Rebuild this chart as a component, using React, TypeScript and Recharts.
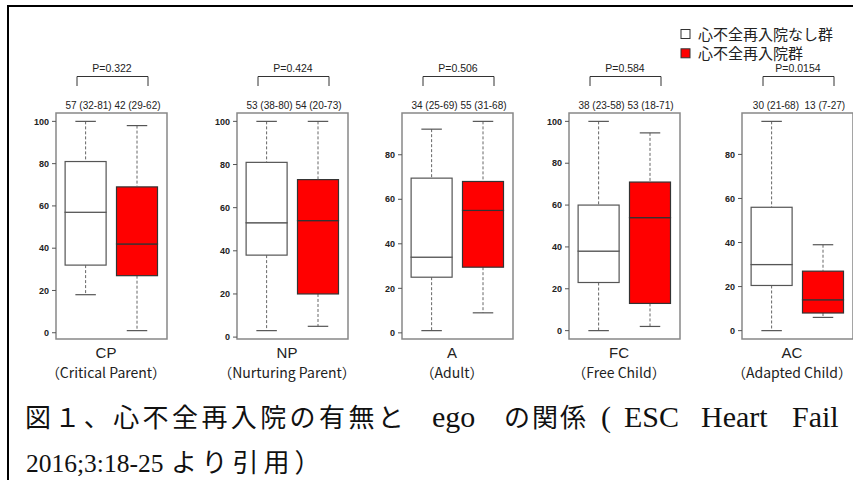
import { BarChart, Bar, XAxis, YAxis, ReferenceArea } from "recharts";

const egoCodes = ["CP", "NP", "A", "FC", "AC"];
const egoNames = [
  "（Critical Parent）",
  "（Nurturing Parent）",
  "（Adult）",
  "（Free Child）",
  "（Adapted Child）",
];
const pLabels = ["P=0.322", "P=0.424", "P=0.506", "P=0.584", "P=0.0154"];
const medianLabels = [
  "57 (32-81) 42 (29-62)",
  "53 (38-80) 54 (20-73)",
  "34 (25-69) 55 (31-68)",
  "38 (23-58) 53 (18-71)",
  "30 (21-68)  13 (7-27)",
];
const groupNames = ["心不全再入院なし群", "心不全再入院群"];
const groupColors = ["#ffffff", "#ff0000"];
const yTicks = [0, 20, 40, 60, 80, 100];

// box plot stats (min, q1, median, q3, max)
const noneMin = [18, 3, 1, 0, 0];
const noneQ1 = [32, 38, 25, 23, 20.5];
const noneMed = [57, 53, 34, 38, 30];
const noneQ3 = [81, 81, 69.5, 60, 56];
const noneMax = [100, 100, 91.5, 100, 95];
const readmitMin = [1, 5, 9, 2, 6];
const readmitQ1 = [27, 20, 29.5, 13, 8];
const readmitMed = [42, 54, 55, 54, 14];
const readmitQ3 = [69, 73, 68, 71, 27];
const readmitMax = [98, 100, 95, 94.5, 39];

const panelLeft = [56, 237, 402, 569, 742];
const PLOT_W = 111;
const PLOT_TOP = 113;
const PLOT_H = 226;
const AXIS_W = 40;

const SANS = "'Liberation Sans', Arial, sans-serif";
const CJK = "'Noto Sans CJK JP', sans-serif";
const SERIF = "'Liberation Serif', 'Times New Roman', serif";

const toRow = (pos: number, mn: number, q1: number, md: number, q3: number, mx: number, color: string) => ({
  pos,
  color,
  base: mn,
  lowW: q1 - mn,
  lowBox: md - q1,
  highBox: q3 - md,
  highW: mx - q3,
});

const BoxPart = (props: any) => {
  const { x, y, width, height, payload } = props;
  const white = payload.color === "#ffffff";
  return (
    <rect
      x={x}
      y={y}
      width={width}
      height={height}
      fill={payload.color}
      stroke={white ? "#555" : "#333"}
      strokeWidth={1.2}
    />
  );
};

const Whisker = (props: any, top: boolean) => {
  const { x, y, width, height } = props;
  const cx = x + width / 2;
  const capY = top ? y : y + height;
  return (
    <g>
      <line x1={cx} x2={cx} y1={y} y2={y + height} stroke="#666" strokeDasharray="3 2" />
      <line x1={cx - width / 4} x2={cx + width / 4} y1={capY} y2={capY} stroke="#555" strokeWidth={1.2} />
    </g>
  );
};

const EgoPanel = ({ i }: { i: number }) => {
  const rows = [
    toRow(1, noneMin[i], noneQ1[i], noneMed[i], noneQ3[i], noneMax[i], groupColors[0]),
    toRow(2, readmitMin[i], readmitQ1[i], readmitMed[i], readmitQ3[i], readmitMax[i], groupColors[1]),
  ];
  const lo = Math.min(noneMin[i], readmitMin[i]);
  const hi = Math.max(noneMax[i], readmitMax[i]);
  const pad = (hi - lo) * 0.04;
  const domain = [lo - pad, hi + pad];
  const ticks = yTicks.filter((t) => t <= domain[1]);

  return (
    <div style={{ position: "absolute", left: panelLeft[i] - AXIS_W, top: PLOT_TOP - 5 }}>
      <BarChart
        width={AXIS_W + PLOT_W + 6}
        height={PLOT_H + 10}
        data={rows}
        barSize={41}
        margin={{ top: 5, right: 6, bottom: 5, left: 0 }}
      >
        <XAxis type="number" dataKey="pos" domain={[0.42, 2.58]} hide />
        <YAxis
          type="number"
          domain={domain}
          ticks={ticks}
          interval={0}
          width={AXIS_W}
          axisLine={false}
          tickSize={4}
          tickMargin={3}
          tickLine={{ stroke: "#555" }}
          tick={{ fontSize: 9, fontWeight: 700, fill: "#222", fontFamily: SANS }}
        />
        <ReferenceArea y1={domain[0]} y2={domain[1]} fill="none" stroke="#888" strokeWidth={1.5} />
        <Bar dataKey="base" stackId="b" shape={() => <g />} isAnimationActive={false} />
        <Bar dataKey="lowW" stackId="b" shape={(p: any) => Whisker(p, false)} isAnimationActive={false} />
        <Bar dataKey="lowBox" stackId="b" shape={BoxPart} isAnimationActive={false} />
        <Bar dataKey="highBox" stackId="b" shape={BoxPart} isAnimationActive={false} />
        <Bar dataKey="highW" stackId="b" shape={(p: any) => Whisker(p, true)} isAnimationActive={false} />
      </BarChart>
    </div>
  );
};

export default function App() {
  return (
    <div
      style={{
        position: "absolute",
        left: 0,
        top: 0,
        width: 853,
        height: 480,
        background: "#fff",
        overflow: "hidden",
      }}
    >
      {egoCodes.map((_, i) => (
        <EgoPanel key={i} i={i} />
      ))}
      <svg width={853} height={480} style={{ position: "absolute", left: 0, top: 0, pointerEvents: "none" }}>
        <line x1={7} x2={853} y1={6} y2={6} stroke="#000" strokeWidth={2} />
        <line x1={8} x2={8} y1={5} y2={480} stroke="#000" strokeWidth={2} />

        {egoCodes.map((code, i) => {
          const l = panelLeft[i];
          return (
            <g key={code}>
              <text x={l + 56} y={72} textAnchor="middle" fontSize={10.5} fontFamily={SANS} fill="#222">
                {pLabels[i]}
              </text>
              <path
                d={`M${l + 21},86 V76.5 H${l + 92} V86`}
                fill="none"
                stroke="#333"
                strokeWidth={1}
              />
              <text
                x={l + 57}
                y={108.5}
                textAnchor="middle"
                fontSize={10}
                fontFamily={SANS}
                fill="#222"
                style={{ whiteSpace: "pre" }}
              >
                {medianLabels[i]}
              </text>
              <text x={l + 50} y={357.5} textAnchor="middle" fontSize={15} fontFamily={SANS} fill="#222">
                {code}
              </text>
              <text x={l + 50} y={378} textAnchor="middle" fontSize={14} fontFamily={CJK} fill="#222">
                {egoNames[i]}
              </text>
            </g>
          );
        })}

        {groupNames.map((name, k) => (
          <g key={name}>
            <rect x={681} y={29.5 + k * 19.3} width={9} height={9} fill={groupColors[k]} stroke="#333" strokeWidth={1} />
            <text x={698} y={39.5 + k * 19.3} fontSize={15} fontFamily={CJK} fill="#222">
              {name}
            </text>
          </g>
        ))}

        <g fill="#111">
          <text x={25} y={427} fontSize={26} fontFamily={CJK} letterSpacing={3.4}>
            図１、心不全再入院の有無と
          </text>
          <text x={432} y={427} fontSize={30} fontFamily={SERIF}>
            ego
          </text>
          <text x={504} y={427} fontSize={26} fontFamily={CJK} letterSpacing={2}>
            の関係
          </text>
          <text x={601} y={427} fontSize={30} fontFamily={SERIF}>
            (
          </text>
          <text x={624} y={427} fontSize={30} fontFamily={SERIF}>
            ESC
          </text>
          <text x={701} y={427} fontSize={30} fontFamily={SERIF}>
            Heart
          </text>
          <text x={792} y={427} fontSize={30} fontFamily={SERIF}>
            Fail
          </text>
          <text x={26} y={472} fontSize={25.5} fontFamily={SERIF}>
            2016;3:18-25
          </text>
          <text x={171} y={472} fontSize={26} fontFamily={CJK} letterSpacing={5}>
            より引用）
          </text>
        </g>
      </svg>
    </div>
  );
}
